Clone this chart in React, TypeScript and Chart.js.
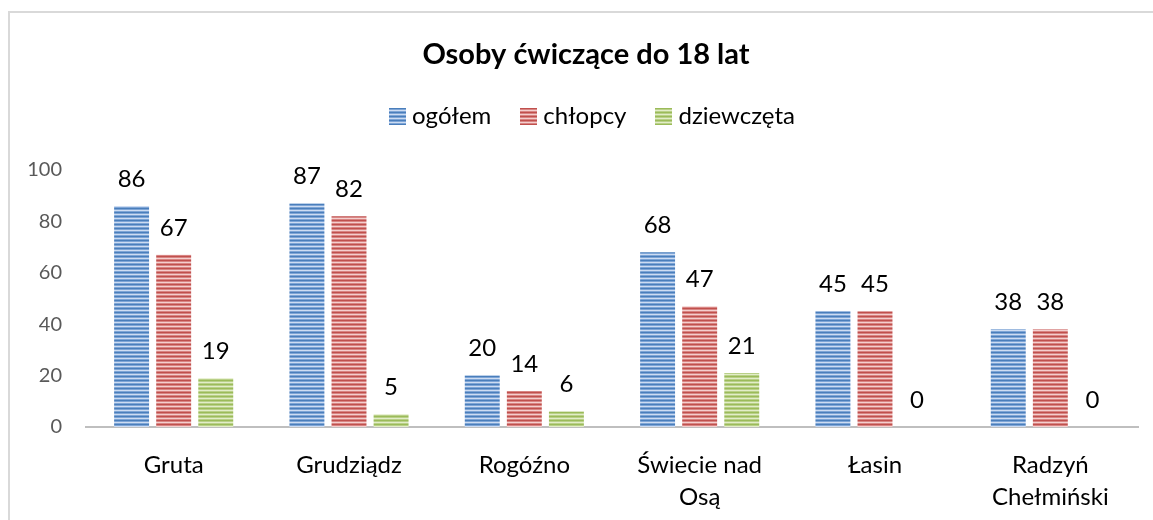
import { useEffect, useRef } from 'react';
import { Chart, registerables } from 'chart.js';

Chart.register(...registerables);

const chartTitle = 'Osoby ćwiczące do 18 lat';
const categories = [['Gruta'], ['Grudziądz'], ['Rogóźno'], ['Świecie nad', 'Osą'], ['Łasin'], ['Radzyń', 'Chełmiński']];
const seriesNames = ['ogółem', 'chłopcy', 'dziewczęta'];
const ogolem = [86, 87, 20, 68, 45, 38];
const chlopcy = [67, 82, 14, 47, 45, 38];
const dziewczeta = [19, 5, 6, 21, 0, 0];
const yMin = 0;
const yMax = 100;
const yStep = 20;

const FONT = 'Lato, "Noto Sans", sans-serif';

const palettes = [
  { dark: '#4a7ebb', mid: '#7ea5d6', light: '#cddcf2' },
  { dark: '#c0504d', mid: '#d88583', light: '#f4cfce' },
  { dark: '#9bbb59', mid: '#b9d088', light: '#e2edc8' },
];

function makePattern(ctx: CanvasRenderingContext2D, p: { dark: string; mid: string; light: string }) {
  const c = document.createElement('canvas');
  c.width = 8;
  c.height = 4;
  const g = c.getContext('2d')!;
  g.fillStyle = p.dark;
  g.fillRect(0, 0, 8, 1);
  g.fillStyle = p.mid;
  g.fillRect(0, 1, 8, 1);
  g.fillStyle = p.light;
  g.fillRect(0, 2, 8, 1);
  g.fillStyle = p.mid;
  g.fillRect(0, 3, 8, 1);
  return ctx.createPattern(c, 'repeat')!;
}

export default function App() {
  const ref = useRef<HTMLCanvasElement>(null);

  useEffect(() => {
    document.body.style.margin = '0';
    const canvas = ref.current!;
    const ctx = canvas.getContext('2d')!;
    const patterns = palettes.map((p) => makePattern(ctx, p));

    const framePlugin = {
      id: 'frame',
      beforeDraw(chart: any) {
        const c = chart.ctx;
        c.save();
        c.fillStyle = '#ffffff';
        c.fillRect(0, 0, chart.width, chart.height);
        c.fillStyle = '#d9d9d9';
        c.fillRect(8, 11, 2, chart.height - 11);
        c.fillRect(8, 11, chart.width - 8, 2);
        c.restore();
      },
    };

    const headerPlugin = {
      id: 'header',
      afterDraw(chart: any) {
        const c = chart.ctx;
        c.save();
        c.fillStyle = '#000000';
        c.font = `bold 29px ${FONT}`;
        c.textAlign = 'center';
        c.textBaseline = 'middle';
        c.fillText(chartTitle, 586, 55);

        c.font = `24px ${FONT}`;
        const box = 17;
        const boxGap = 6;
        const itemGap = 29;
        const widths = seriesNames.map((n) => c.measureText(n).width);
        const total = widths.reduce((a, w) => a + box + boxGap + w, 0) + itemGap * (seriesNames.length - 1);
        let x = 592 - total / 2;
        const cy = 116;
        c.textAlign = 'left';
        seriesNames.forEach((n, i) => {
          c.fillStyle = patterns[i];
          c.fillRect(Math.round(x), cy - 8, box, box);
          c.fillStyle = '#000000';
          c.fillText(n, x + box + boxGap, cy);
          x += box + boxGap + widths[i] + itemGap;
        });
        c.restore();
      },
    };

    const valuePlugin = {
      id: 'values',
      afterDatasetsDraw(chart: any) {
        const c = chart.ctx;
        c.save();
        c.fillStyle = '#000000';
        c.font = `24px ${FONT}`;
        c.textAlign = 'center';
        c.textBaseline = 'middle';
        chart.data.datasets.forEach((ds: any, di: number) => {
          const meta = chart.getDatasetMeta(di);
          meta.data.forEach((bar: any, i: number) => {
            c.fillText(String(ds.data[i]), bar.x, bar.y - 27);
          });
        });
        c.restore();
      },
    };

    const chart = new Chart(canvas, {
      type: 'bar',
      data: {
        labels: categories,
        datasets: [ogolem, chlopcy, dziewczeta].map((d, i) => ({
          label: seriesNames[i],
          data: d,
          backgroundColor: patterns[i],
          borderWidth: 0,
          categoryPercentage: 0.72,
          barPercentage: 0.83,
        })),
      },
      options: {
        animation: false,
        responsive: false,
        devicePixelRatio: 1,
        layout: { padding: { top: 170, right: 15, bottom: 0, left: 0 } },
        plugins: {
          legend: { display: false },
          title: { display: false },
          tooltip: { enabled: false },
        },
        scales: {
          x: {
            grid: { display: false, drawTicks: false },
            border: { display: true, color: '#bfbfbf', width: 2 },
            ticks: {
              color: '#000000',
              font: { family: FONT, size: 24, lineHeight: 1.333 },
              padding: 22,
              maxRotation: 0,
              autoSkip: false,
            },
            afterFit(scale: any) {
              scale.height = 93;
            },
          },
          y: {
            min: yMin,
            max: yMax,
            grid: { display: false, drawTicks: false },
            border: { display: false },
            ticks: {
              stepSize: yStep,
              color: '#595959',
              font: { family: FONT, size: 20 },
              padding: 24,
            },
            afterFit(scale: any) {
              scale.width = 86;
            },
          },
        },
      },
      plugins: [framePlugin, valuePlugin, headerPlugin],
    });

    return () => chart.destroy();
  }, []);

  return (
    <div style={{ width: 1153, height: 520 }}>
      <canvas ref={ref} width={1153} height={520} style={{ display: 'block', width: 1153, height: 520 }} />
    </div>
  );
}
